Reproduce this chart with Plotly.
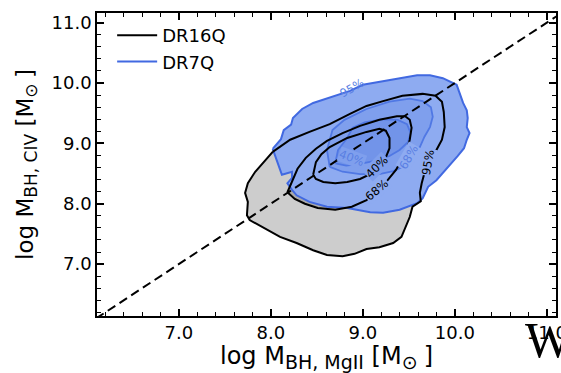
import plotly.graph_objects as go

# ---------------- data ----------------
# DR16Q contour outlines (log M_BH,MgII , log M_BH,CIV)
dr16q_95_x = [8.02, 8.21, 8.42, 8.64, 8.86, 9.04, 9.22, 9.43, 9.65, 9.79, 9.86, 9.88, 9.89, 9.86,
              9.80, 9.74, 9.67, 9.64, 9.62, 9.63, 9.54, 9.51, 9.46, 9.42, 9.33, 9.18, 9.04, 8.91,
              8.78, 8.61, 8.46, 8.28, 8.10, 7.91, 7.77, 7.74, 7.75, 7.72, 7.75, 7.83]
dr16q_95_y = [8.86, 9.06, 9.19, 9.32, 9.49, 9.62, 9.70, 9.79, 9.82, 9.79, 9.69, 9.52, 9.27, 9.06,
              8.89, 8.72, 8.51, 8.34, 8.18, 8.04, 7.95, 7.78, 7.61, 7.45, 7.35, 7.28, 7.25, 7.17,
              7.13, 7.15, 7.23, 7.35, 7.45, 7.61, 7.73, 7.81, 8.03, 8.18, 8.34, 8.53]

dr16q_68_x = [8.18, 8.23, 8.29, 8.38, 8.49, 8.61, 8.78, 8.97, 9.18, 9.37, 9.46, 9.51, 9.53, 9.51,
              9.48, 9.42, 9.36, 9.27, 9.16, 9.04, 8.88, 8.70, 8.51, 8.37, 8.26]
dr16q_68_y = [8.19, 8.38, 8.58, 8.76, 8.91, 9.04, 9.17, 9.29, 9.39, 9.45, 9.45, 9.39, 9.26, 9.06,
              8.89, 8.72, 8.56, 8.39, 8.23, 8.06, 7.95, 7.90, 7.93, 8.00, 8.08]

dr16q_40_x = [8.46, 8.49, 8.55, 8.64, 8.83, 9.04, 9.18, 9.25, 9.29, 9.29, 9.25, 9.18, 9.08, 8.97,
              8.83, 8.70, 8.57, 8.49]
dr16q_40_y = [8.48, 8.69, 8.82, 8.94, 9.09, 9.19, 9.24, 9.21, 9.09, 8.92, 8.77, 8.63, 8.49, 8.41,
              8.36, 8.34, 8.36, 8.41]

# DR7Q contour outlines
dr7q_95_x = [8.02, 8.11, 8.14, 8.22, 8.24, 8.34, 8.46, 8.67, 8.86, 9.00, 9.22, 9.40, 9.59, 9.73,
             9.87, 10.02, 10.05, 10.09, 10.13, 10.14, 10.13, 10.16, 10.13, 10.10, 10.03, 9.97,
             9.90, 9.80, 9.71, 9.65, 9.59, 9.40, 9.22, 9.08, 8.83, 8.61, 8.42, 8.28, 8.23, 8.18,
             8.23, 8.23, 8.12]
dr7q_95_y = [8.91, 9.07, 9.22, 9.31, 9.42, 9.57, 9.67, 9.77, 9.87, 9.97, 10.03, 10.08, 10.13, 10.13,
             10.08, 9.97, 9.84, 9.67, 9.55, 9.42, 9.27, 9.17, 9.06, 8.92, 8.79, 8.69, 8.56, 8.39,
             8.28, 8.09, 8.01, 7.90, 7.85, 7.86, 7.93, 7.95, 8.03, 8.14, 8.23, 8.34, 8.43, 8.53, 8.48]

dr7q_68_x = [8.64, 8.61, 8.67, 8.80, 9.04, 9.29, 9.51, 9.65, 9.74, 9.76, 9.73, 9.67, 9.62, 9.54,
             9.46, 9.33, 9.18, 8.97, 8.78]
dr7q_68_y = [8.61, 8.89, 9.22, 9.39, 9.57, 9.69, 9.74, 9.70, 9.60, 9.44, 9.27, 9.11, 8.94, 8.77,
             8.63, 8.54, 8.49, 8.49, 8.53]

dr7q_40_x = [8.70, 8.73, 8.83, 8.89, 9.02, 9.22, 9.38, 9.48, 9.52, 9.49, 9.40, 9.29, 9.13, 8.97, 8.82]
dr7q_40_y = [8.67, 8.89, 9.09, 9.26, 9.35, 9.40, 9.39, 9.32, 9.17, 9.02, 8.89, 8.79, 8.71, 8.66, 8.63]

# one-to-one relation
one_to_one = [6.1, 11.2]

# contour labels: text, x, y, angle, sample
label_text = ["95%", "40%", "68%", "95%", "68%", "40%"]
label_x = [8.88, 8.88, 9.50, 9.71, 9.15, 9.15]
label_y = [9.92, 8.76, 8.77, 8.69, 8.23, 8.61]
label_angle = [-30, 20, -60, -80, -40, -45]
label_sample = ["DR7Q", "DR7Q", "DR7Q", "DR16Q", "DR16Q", "DR16Q"]

x_ticks = [7.0, 8.0, 9.0, 10.0, 11.0]
y_ticks = [7.0, 8.0, 9.0, 10.0, 11.0]
x_range = [6.11, 11.10]
y_range = [6.14, 11.16]

# ---------------- styles ----------------
BLACK = "#000000"
BLUE_LINE = "#4169e1"
BLUE_INNER_LINE = "#5078e4"
GRAY_FILLS = ["#cdcdcd", "#a9a9a9", "#8c8c8c"]
BLUE_FILLS = ["#8eabf1", "#7f9fed", "#7294e9"]
FONT = "DejaVu Sans"


def closed(v):
    return list(v) + [v[0]]


fig = go.Figure()

dr16q = [(dr16q_95_x, dr16q_95_y), (dr16q_68_x, dr16q_68_y), (dr16q_40_x, dr16q_40_y)]
dr7q = [(dr7q_95_x, dr7q_95_y), (dr7q_68_x, dr7q_68_y), (dr7q_40_x, dr7q_40_y)]

# filled levels
for (xs, ys), c in zip(dr16q, GRAY_FILLS):
    fig.add_trace(go.Scatter(x=closed(xs), y=closed(ys), mode="lines", fill="toself",
                             fillcolor=c, line=dict(width=0, color=c),
                             showlegend=False, hoverinfo="skip"))
for (xs, ys), c in zip(dr7q, BLUE_FILLS):
    fig.add_trace(go.Scatter(x=closed(xs), y=closed(ys), mode="lines", fill="toself",
                             fillcolor=c, line=dict(width=0, color=c),
                             showlegend=False, hoverinfo="skip"))

# contour lines
for i, (xs, ys) in enumerate(dr7q):
    fig.add_trace(go.Scatter(x=closed(xs), y=closed(ys), mode="lines",
                             line=dict(color=BLUE_LINE if i == 0 else BLUE_INNER_LINE,
                                       width=2 if i == 0 else 1.8),
                             name="DR7Q", showlegend=(i == 0), legendrank=2,
                             legendgroup="dr7q", hoverinfo="skip"))
for i, (xs, ys) in enumerate(dr16q):
    fig.add_trace(go.Scatter(x=closed(xs), y=closed(ys), mode="lines",
                             line=dict(color=BLACK, width=2),
                             name="DR16Q", showlegend=(i == 0), legendrank=1,
                             legendgroup="dr16q", hoverinfo="skip"))

# 1:1 line
fig.add_trace(go.Scatter(x=one_to_one, y=one_to_one, mode="lines",
                         line=dict(color=BLACK, width=2, dash="9px,5px"),
                         showlegend=False, hoverinfo="skip"))

# invisible trace carrying the mirrored (top/right) tick axes
fig.add_trace(go.Scatter(x=one_to_one, y=one_to_one, xaxis="x2", yaxis="y2", mode="lines",
                         line=dict(width=0), opacity=0, showlegend=False, hoverinfo="skip"))

# contour labels
bg_for = {("DR7Q", "95%"): None, ("DR7Q", "68%"): BLUE_FILLS[0], ("DR7Q", "40%"): BLUE_FILLS[1],
          ("DR16Q", "95%"): BLUE_FILLS[0], ("DR16Q", "68%"): BLUE_FILLS[0],
          ("DR16Q", "40%"): BLUE_FILLS[1]}
for t, x, y, a, s in zip(label_text, label_x, label_y, label_angle, label_sample):
    bg = bg_for[(s, t)]
    fig.add_annotation(x=x, y=y, text=t, showarrow=False, textangle=a,
                       font=dict(family=FONT, size=11.5,
                                 color=BLACK if s == "DR16Q" else "#5a7fe3"),
                       bgcolor=bg if bg else "rgba(0,0,0,0)", borderpad=0)

# stray glyph of the neighbouring panel at the lower right
fig.add_annotation(x=0.985, y=-0.08, xref="paper", yref="paper", text="W",
                   showarrow=False, font=dict(family="Liberation Serif", size=50, color=BLACK),
                   xanchor="center", yanchor="middle")

tick_common = dict(
    showgrid=False, zeroline=False, showline=True, linecolor=BLACK, linewidth=1.5,
    ticks="inside", ticklen=7, tickwidth=1.5, tickcolor=BLACK,
    minor=dict(ticks="inside", ticklen=4, tickwidth=1, tickcolor=BLACK, dtick=0.2, tick0=7),
    automargin=False,
)
label_font = dict(family=FONT, size=18, color=BLACK)
XSUB = '<sub><span style="font-size:19px">%s</span></sub>'
YSUB = '<sub><span style="font-size:17px">%s</span></sub>'

fig.update_layout(
    xaxis=dict(range=x_range, tickvals=x_ticks, tickformat=".1f", tickfont=label_font,
               ticklabeloverflow="allow",
               title=dict(text="log M" + XSUB % "BH, MgII" + " [M" + XSUB % "⊙ " + "]",
                          font=dict(family=FONT, size=24, color=BLACK), standoff=8),
               **tick_common),
    yaxis=dict(range=y_range, tickvals=y_ticks, tickformat=".1f", tickfont=label_font,
               ticklabeloverflow="allow",
               title=dict(text="log M" + YSUB % "BH, CIV" + " [M" + YSUB % "⊙ " + "]",
                          font=dict(family=FONT, size=23, color=BLACK), standoff=12),
               **tick_common),
    xaxis2=dict(range=x_range, tickvals=x_ticks, overlaying="x", side="top", anchor="y",
                showticklabels=False, **tick_common),
    yaxis2=dict(range=y_range, tickvals=y_ticks, overlaying="y", side="right", anchor="x",
                showticklabels=False, **tick_common),
)

fig.update_layout(
    width=561, height=373,
    margin=dict(l=97, r=5, t=13, b=57),
    paper_bgcolor="white", plot_bgcolor="white",
    font=dict(family=FONT, color=BLACK),
    legend=dict(x=0.033, y=0.987, xanchor="left", yanchor="top", itemwidth=40,
                bgcolor="rgba(0,0,0,0)", borderwidth=0, tracegroupgap=0,
                font=dict(family=FONT, size=18, color=BLACK)),
)

fig.write_html("out.html")
